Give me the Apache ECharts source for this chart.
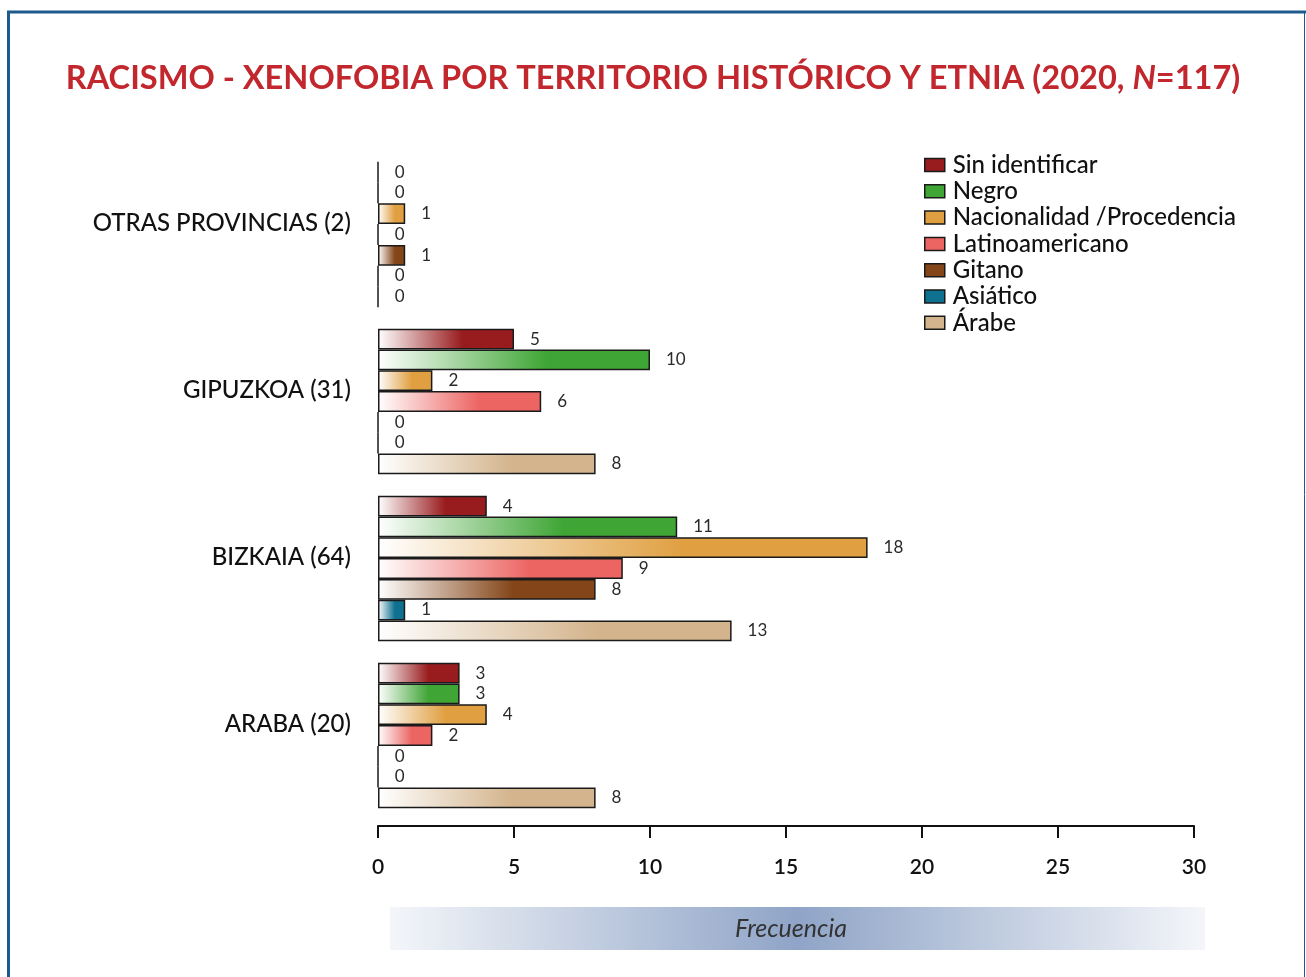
<!DOCTYPE html>
<html>
<head>
<meta charset="utf-8">
<script src="https://cdn.jsdelivr.net/npm/echarts@6/dist/echarts.min.js"></script>
<style>
  html, body { margin: 0; padding: 0; background: #fff; }
  #chart { width: 1306px; height: 977px; }
</style>
</head>
<body>
<div id="chart"></div>
<script>
// categories bottom -> top (ECharts category y axis starts at the bottom)
const territorios = ['ARABA (20)', 'BIZKAIA (64)', 'GIPUZKOA (31)', 'OTRAS PROVINCIAS (2)'];
const etnias = ['Sin identificar', 'Negro', 'Nacionalidad /Procedencia', 'Latinoamericano', 'Gitano', 'Asiático', 'Árabe'];
const colores = ['#981c1e', '#3fa535', '#e0a042', '#ec6563', '#844619', '#0f7190', '#d3b48c'];

const sinIdentificar = [3, 4, 5, 0];
const negro = [3, 11, 10, 0];
const nacionalidad = [4, 18, 2, 1];
const latinoamericano = [2, 9, 6, 0];
const gitano = [0, 8, 0, 1];
const asiatico = [0, 1, 0, 0];
const arabe = [8, 13, 8, 0];
const valores = [sinIdentificar, negro, nacionalidad, latinoamericano, gitano, asiatico, arabe];

const xTicks = [0, 5, 10, 15, 20, 25, 30];

const FONT = 'Lato';
const chart = echarts.init(document.getElementById('chart'));

const series = etnias.map(function (name, i) {
  return {
    name: name,
    type: 'bar',
    barGap: 0,
    barCategoryGap: '13%',
    data: valores[i],
    itemStyle: {
      color: new echarts.graphic.LinearGradient(0, 0, 1, 0, [
        { offset: 0, color: '#ffffff' },
        { offset: 0.62, color: colores[i] },
        { offset: 1, color: colores[i] }
      ]),
      borderColor: '#1a1a1a',
      borderWidth: 1.5
    },
    label: {
      show: true,
      position: 'right',
      distance: 16,
      fontFamily: FONT,
      fontSize: 17,
      color: '#2a2a2a'
    }
  };
});

const option = {
  animation: false,
  backgroundColor: '#fff',
  title: {
    left: 'center',
    top: 57,
    text: '{a|RACISMO - XENOFOBIA POR TERRITORIO HISTÓRICO Y ETNIA (2020, }{b|N}{a|=117)}',
    textStyle: {
      rich: {
        a: { fontFamily: FONT, fontSize: 32.6, fontWeight: 'bold', color: '#c1272d' },
        b: { fontFamily: FONT, fontSize: 32.6, fontWeight: 'bold', fontStyle: 'italic', color: '#c1272d' }
      }
    }
  },
  legend: {
    orient: 'vertical',
    left: 919,
    top: 148,
    itemWidth: 20,
    itemHeight: 13,
    itemGap: 2.3,
    icon: 'rect',
    data: etnias.map(function (name, i) {
      return { name: name, itemStyle: { color: colores[i], borderColor: '#1a1a1a', borderWidth: 1.5 } };
    }),
    textStyle: { fontFamily: FONT, fontSize: 24, fontWeight: 500, color: '#111', lineHeight: 22, padding: [0, 0, 0, 3] }
  },
  grid: { left: 378, right: 112, top: 151, bottom: 158 },
  xAxis: {
    type: 'value',
    min: 0,
    max: 30,
    interval: 5,
    offset: 7,
    name: 'Frecuencia',
    nameLocation: 'middle',
    nameGap: 90,
    nameTextStyle: { fontFamily: FONT, fontSize: 25, fontStyle: 'italic', color: '#333', padding: [0, 0, 0, 10] },
    axisLine: { show: true, lineStyle: { color: '#111', width: 2 } },
    axisTick: { show: true, length: 12, lineStyle: { color: '#111', width: 2 } },
    axisLabel: {
      margin: 31,
      fontFamily: FONT,
      fontSize: 21,
      fontWeight: 600,
      color: '#111',
      customValues: xTicks
    },
    splitLine: { show: false }
  },
  yAxis: {
    type: 'category',
    data: territorios,
    axisLine: { show: false },
    axisTick: { show: false },
    axisLabel: {
      margin: 27,
      fontFamily: FONT,
      fontSize: 24,
      fontWeight: 500,
      color: '#111',
      verticalAlign: 'bottom',
      lineHeight: 22
    }
  },
  graphic: [
    {
      type: 'rect',
      z: -10,
      shape: { x: 390, y: 907, width: 815, height: 43 },
      style: {
        fill: new echarts.graphic.LinearGradient(0, 0, 1, 0, [
          { offset: 0, color: 'rgba(143,164,199,0.1)' },
          { offset: 0.5, color: 'rgba(143,164,199,1)' },
          { offset: 1, color: 'rgba(143,164,199,0.1)' }
        ])
      }
    },
    { type: 'line', shape: { x1: 7, y1: 12, x2: 1306, y2: 12 }, style: { stroke: '#1d5b8f', lineWidth: 3 } },
    { type: 'line', shape: { x1: 8.5, y1: 11, x2: 8.5, y2: 977 }, style: { stroke: '#1d5b8f', lineWidth: 3 } },
    { type: 'line', shape: { x1: 1304.5, y1: 12, x2: 1304.5, y2: 977 }, style: { stroke: '#1d5b8f', lineWidth: 1 } }
  ],
  series: series
};

chart.setOption(option);
</script>
</body>
</html>
